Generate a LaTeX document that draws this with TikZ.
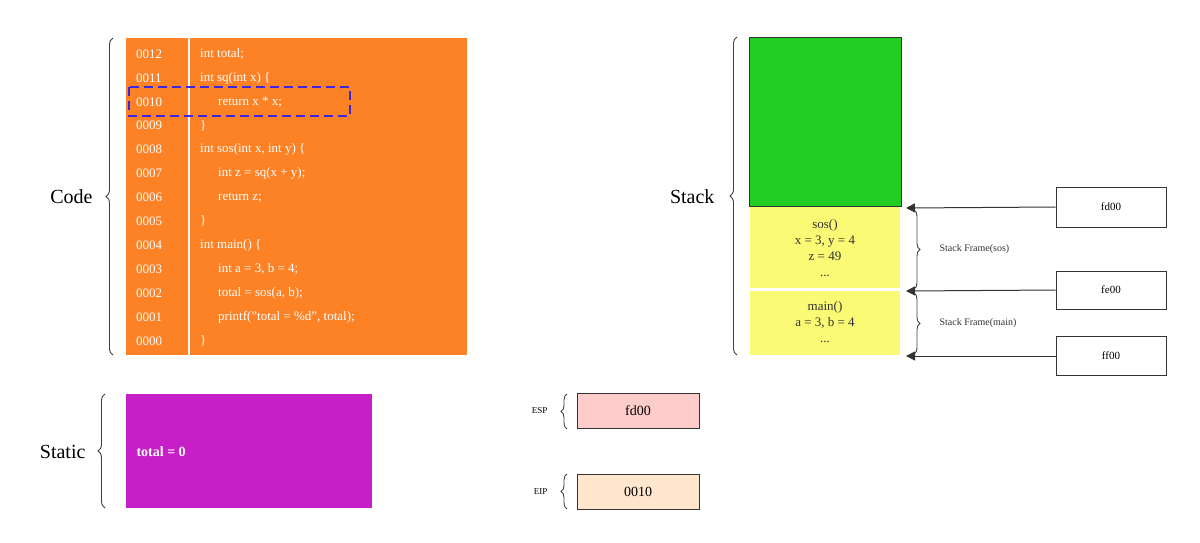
\documentclass[tikz,border=0pt]{standalone}
\usepackage{fontspec}
\setmainfont{Liberation Serif}
\usetikzlibrary{decorations.pathreplacing,arrows.meta}
\begin{document}
\begin{tikzpicture}[x=1pt,y=-1pt,
 br/.style={decorate,decoration={brace,amplitude=7pt},draw=black!75,line width=0.9pt},
 ln/.style={font=\fontsize{13}{13}\selectfont,text=white,anchor=west,inner sep=0},
 box/.style={draw=black!80,line width=0.9pt},
 arr/.style={draw=black!80,line width=1pt,-{Triangle[length=9pt,width=9pt]}}]
\useasboundingbox (0,0) rectangle (1200,542);
% code
\fill[fill={rgb,255:red,253;green,129;blue,37}] (126,38) rectangle (467,355);
\draw[white,line width=1.2pt] (189,38) -- (189,355);
\foreach \n/\t [count=\i from 0] in {0012/int total;,0011/int sq(int x) \{,0010/\hspace{18pt}return x * x;,0009/\},0008/{int sos(int x, int y) \{},0007/\hspace{18pt}int z = sq(x + y);,0006/\hspace{18pt}return z;,0005/\},0004/int main() \{,0003/{\hspace{18pt}int a = 3, b = 4;},0002/{\hspace{18pt}total = sos(a, b);},0001/{\hspace{18pt}printf("total = \%d", total);},0000/\}}{
 \node[ln] (n\i) at (136,{54+23.9*\i}) {\n};
 \node[ln] (c\i) at (200,{54+23.9*\i}) {\t};
}
\draw[dashed,dash pattern=on 9pt off 5pt,line width=2.2pt,draw={rgb,255:red,60;green,40;blue,220}] (129,87) rectangle (350,116);
\draw[br] (113,355) -- (113,38);
\node[font=\fontsize{20}{20}\selectfont,anchor=east] (code) at (96,197) {Code};
% static
\fill[fill={rgb,255:red,199;green,31;blue,199}] (126,394) rectangle (372,508);
\node[font=\fontsize{14}{14}\selectfont\bfseries,text=white,anchor=west] (tot) at (133,452) {total = 0};
\draw[br] (105,508) -- (105,394);
\node[font=\fontsize{20}{20}\selectfont,anchor=east] (stat) at (89,452) {Static};
% stack
\draw[box,fill={rgb,255:red,34;green,204;blue,34}] (749,37) rectangle (901,206);
\fill[fill={rgb,255:red,250;green,250;blue,117}] (750,207) rectangle (900,288);
\fill[fill={rgb,255:red,250;green,250;blue,117}] (750,291) rectangle (900,355);
\node[align=center,font=\fontsize{13}{16}\selectfont,text=black!80] (sos) at (825,248) {sos()\\x = 3, y = 4\\z = 49\\...};
\node[align=center,font=\fontsize{13}{16}\selectfont,text=black!80] (mn) at (825,322) {main()\\a = 3, b = 4\\...};
\draw[br] (737,355) -- (737,37);
\node[font=\fontsize{20}{20}\selectfont,anchor=east] (stk) at (718,197) {Stack};
\node[box,minimum width=110pt,minimum height=40pt,font=\fontsize{11}{11}\selectfont] (fd) at (1111,207) {fd00};
\node[box,minimum width=110pt,minimum height=38pt,font=\fontsize{11}{11}\selectfont] (fe) at (1111,290) {fe00};
\node[box,minimum width=110pt,minimum height=39pt,font=\fontsize{11}{11}\selectfont] (ff) at (1111,356) {ff00};
\coordinate (a1) at (906,208); \coordinate (a2) at (906,291); \coordinate (a3) at (906,356);
\draw[arr] (fd.west) -- (a1);
\draw[arr] (fe.west) -- (a2);
\draw[arr] (ff.west) -- (a3);
\draw[br,decoration={brace,amplitude=6pt}] (914,210) -- (914,289);
\draw[br,decoration={brace,amplitude=6pt}] (914,293) -- (914,354);
\node[font=\fontsize{10}{10}\selectfont,anchor=west,text=black!80] (sf1) at (936,249) {Stack Frame(sos)};
\node[font=\fontsize{10}{10}\selectfont,anchor=west,text=black!80] (sf2) at (936,323) {Stack Frame(main)};
% registers
\node[box,fill={rgb,255:red,255;green,204;blue,204},minimum width=122pt,minimum height=35pt,font=\fontsize{14}{14}\selectfont] (esp) at (638,411) {fd00};
\node[box,fill={rgb,255:red,255;green,230;blue,204},minimum width=122pt,minimum height=35pt,font=\fontsize{14}{14}\selectfont] (eip) at (638,492) {0010};
\draw[br,decoration={brace,amplitude=6pt}] (567,429) -- (567,394);
\draw[br,decoration={brace,amplitude=6pt}] (567,509) -- (567,474);
\node[font=\fontsize{9}{9}\selectfont,anchor=east] (espl) at (551,411) {ESP};
\node[font=\fontsize{9}{9}\selectfont,anchor=east] (eipl) at (551,492) {EIP};
\end{tikzpicture}
\end{document}
